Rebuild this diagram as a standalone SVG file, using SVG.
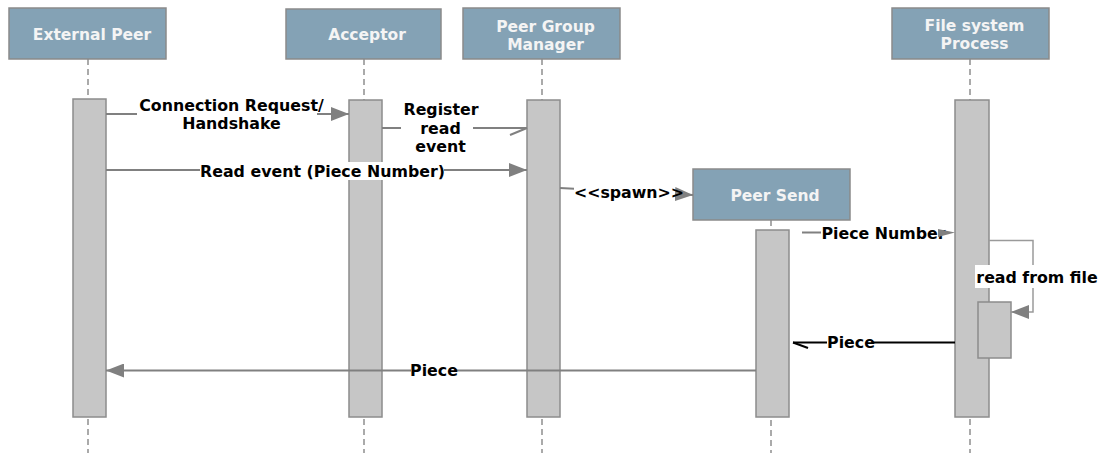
<svg xmlns="http://www.w3.org/2000/svg" width="1103" height="453" viewBox="0 0 1103 453">
  <style>
    .head { fill: #84a2b5; stroke: #8a8a8a; stroke-width: 1.5; }
    .head-text { font-family: "DejaVu Sans", Verdana, sans-serif; font-weight: bold; font-size: 15.5px; fill: #f4f4f4; text-anchor: middle; }
    .life { stroke: #aaaaaa; stroke-width: 2; stroke-dasharray: 6 4; fill: none; }
    .act { fill: #c6c6c6; stroke: #8c8c8c; stroke-width: 1.5; }
    .msg { stroke: #808080; stroke-width: 2; fill: none; }
    .msg-light { stroke: #9a9a9a; stroke-width: 1.5; fill: none; }
    .msg-dark { stroke: #000000; stroke-width: 2; fill: none; }
    .label { font-family: "DejaVu Sans", Verdana, sans-serif; font-weight: bold; font-size: 15.8px; fill: #000000; text-anchor: middle; }
    .bg { fill: #ffffff; }
  </style>
  <defs>
    <marker id="filled" markerUnits="userSpaceOnUse" markerWidth="18" markerHeight="14" refX="18" refY="7" orient="auto">
      <path d="M0,0 L18,7 L0,14 z" fill="#808080"/>
    </marker>
  </defs>

  <rect width="1103" height="453" fill="#ffffff"/>

  <!-- lifelines -->
  <g id="lifelines">
    <line class="life" x1="88" y1="59" x2="88" y2="453"/>
    <line class="life" x1="364" y1="59" x2="364" y2="453"/>
    <line class="life" x1="542" y1="59" x2="542" y2="453"/>
    <line class="life" x1="771" y1="220" x2="771" y2="453"/>
    <line class="life" x1="970" y1="59" x2="970" y2="453"/>
  </g>

  <g id="external-peer">
    <rect class="head" x="9" y="8" width="157" height="51"/>
    <text class="head-text" x="92" y="40">External Peer</text>
    <rect class="act" x="73" y="99" width="33" height="318"/>
  </g>

  <g id="acceptor">
    <rect class="head" x="286" y="9" width="155" height="50"/>
    <text class="head-text" x="367" y="40">Acceptor</text>
    <rect class="act" x="349" y="100" width="33" height="317"/>
  </g>

  <g id="peer-group-manager">
    <rect class="head" x="463" y="8" width="157" height="51"/>
    <text class="head-text" x="545.5" y="31.5">Peer Group</text>
    <text class="head-text" x="545.5" y="49.5">Manager</text>
    <rect class="act" x="527" y="100" width="33" height="317"/>
  </g>

  <g id="file-system-process">
    <rect class="head" x="892" y="8" width="157" height="51"/>
    <text class="head-text" x="974.5" y="31">File system</text>
    <text class="head-text" x="974.5" y="49">Process</text>
    <rect class="act" x="955" y="100" width="34" height="317"/>
    <rect class="act" x="978" y="302" width="33" height="56"/>
  </g>

  <g id="peer-send">
    <rect class="head" x="693" y="169" width="157" height="51"/>
    <text class="head-text" x="775" y="201">Peer Send</text>
    <rect class="act" x="756" y="230" width="33" height="187"/>
  </g>

  <!-- messages -->
  <g id="connectors">
    <!-- Connection Request / Handshake -->
    <line class="msg" x1="106" y1="114" x2="349" y2="114" marker-end="url(#filled)"/>
    <rect class="bg" x="137" y="97" width="180" height="36"/>
    <text class="label" x="231.5" y="111">Connection Request/</text>
    <text class="label" x="231.5" y="129">Handshake</text>

    <!-- Register read event -->
    <line class="msg" x1="382" y1="128" x2="527" y2="128"/>
    <polyline class="msg" points="510,135 527,128"/>
    <rect class="bg" x="401" y="100" width="72" height="56"/>
    <text class="label" x="441" y="115">Register</text>
    <text class="label" x="440.5" y="133.5">read</text>
    <text class="label" x="440.5" y="152">event</text>

    <!-- Read event (Piece Number) -->
    <line class="msg" x1="106" y1="170" x2="527" y2="170" marker-end="url(#filled)"/>
    <rect class="bg" x="200" y="162" width="244" height="18"/>
    <text class="label" x="322.5" y="176.5">Read event (Piece Number)</text>

    <!-- spawn -->
    <line class="msg" x1="560" y1="188" x2="693" y2="195" marker-end="url(#filled)"/>
    <rect class="bg" x="574" y="183" width="101" height="19"/>
    <text class="label" x="629" y="197.5">&lt;&lt;spawn&gt;&gt;</text>

    <!-- Piece Number -->
    <line class="msg" x1="802" y1="232.5" x2="945" y2="232.5"/>
    <rect class="bg" x="821" y="225" width="122" height="18"/>
    <text class="label" x="883.5" y="239">Piece Number</text>
    <polygon points="938,229 955,232.5 938,237" fill="#808080"/>

    <!-- read from file (self call) -->
    <polyline class="msg-light" points="989,240.5 1033,240.5 1033,312 1028,312"/>
    <line class="msg-light" x1="1028" y1="312" x2="1011" y2="312" marker-end="url(#filled)"/>
    <rect class="bg" x="975" y="265" width="124" height="23"/>
    <text class="label" x="1037" y="283">read from file</text>

    <!-- Piece (file system to peer send) -->
    <line class="msg-dark" x1="955" y1="342.5" x2="793" y2="342.5"/>
    <polyline class="msg-dark" points="793,342.5 808,348"/>
    <rect class="bg" x="827" y="334" width="46" height="18"/>
    <text class="label" x="851" y="348">Piece</text>

    <!-- Piece (peer send to external peer) -->
    <line class="msg" x1="756" y1="370.5" x2="106" y2="370.5" marker-end="url(#filled)"/>
    <rect class="bg" x="411" y="362" width="45" height="18"/>
    <text class="label" x="434" y="376">Piece</text>
  </g>
</svg>
